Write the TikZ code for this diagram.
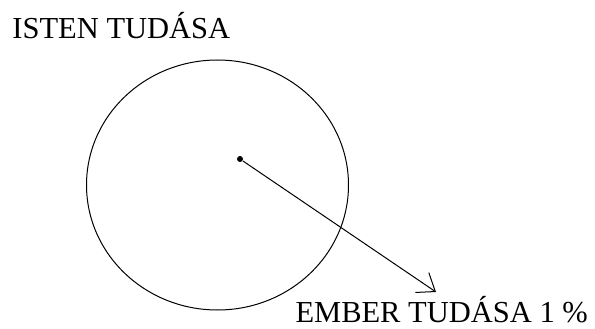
\documentclass[tikz,border=0pt]{standalone}
\usepackage{fontspec}
\setmainfont{Liberation Serif}
\usetikzlibrary{arrows.meta}
\definecolor{vonal}{RGB}{0,0,0}

\tikzset{
  felirat/.style={anchor=base west,inner sep=0pt,font=\fontsize{30.5}{32}\selectfont},
  pont/.style={circle,fill=vonal,inner sep=0pt,minimum size=6pt},
}

\begin{document}
\begin{tikzpicture}[x=1pt,y=-1pt,line width=1pt]
        \useasboundingbox (0,0) rectangle (595,329);
        \node[felirat] (isten) at (12,39) {ISTEN TUDÁSA};
        \draw[vonal] (217.5,185) ellipse [x radius=131,y radius=125];
        \node[pont] (kozep) at (240,159) {};
        \coordinate (csucs) at (436,292);
        \draw[vonal,-{Straight Barb[length=16pt,width=24pt]}] (kozep) -- (csucs);
        \node[felirat] (ember) at (295,322) {EMBER TUDÁSA 1 \%};
      \end{tikzpicture}
\end{document}
